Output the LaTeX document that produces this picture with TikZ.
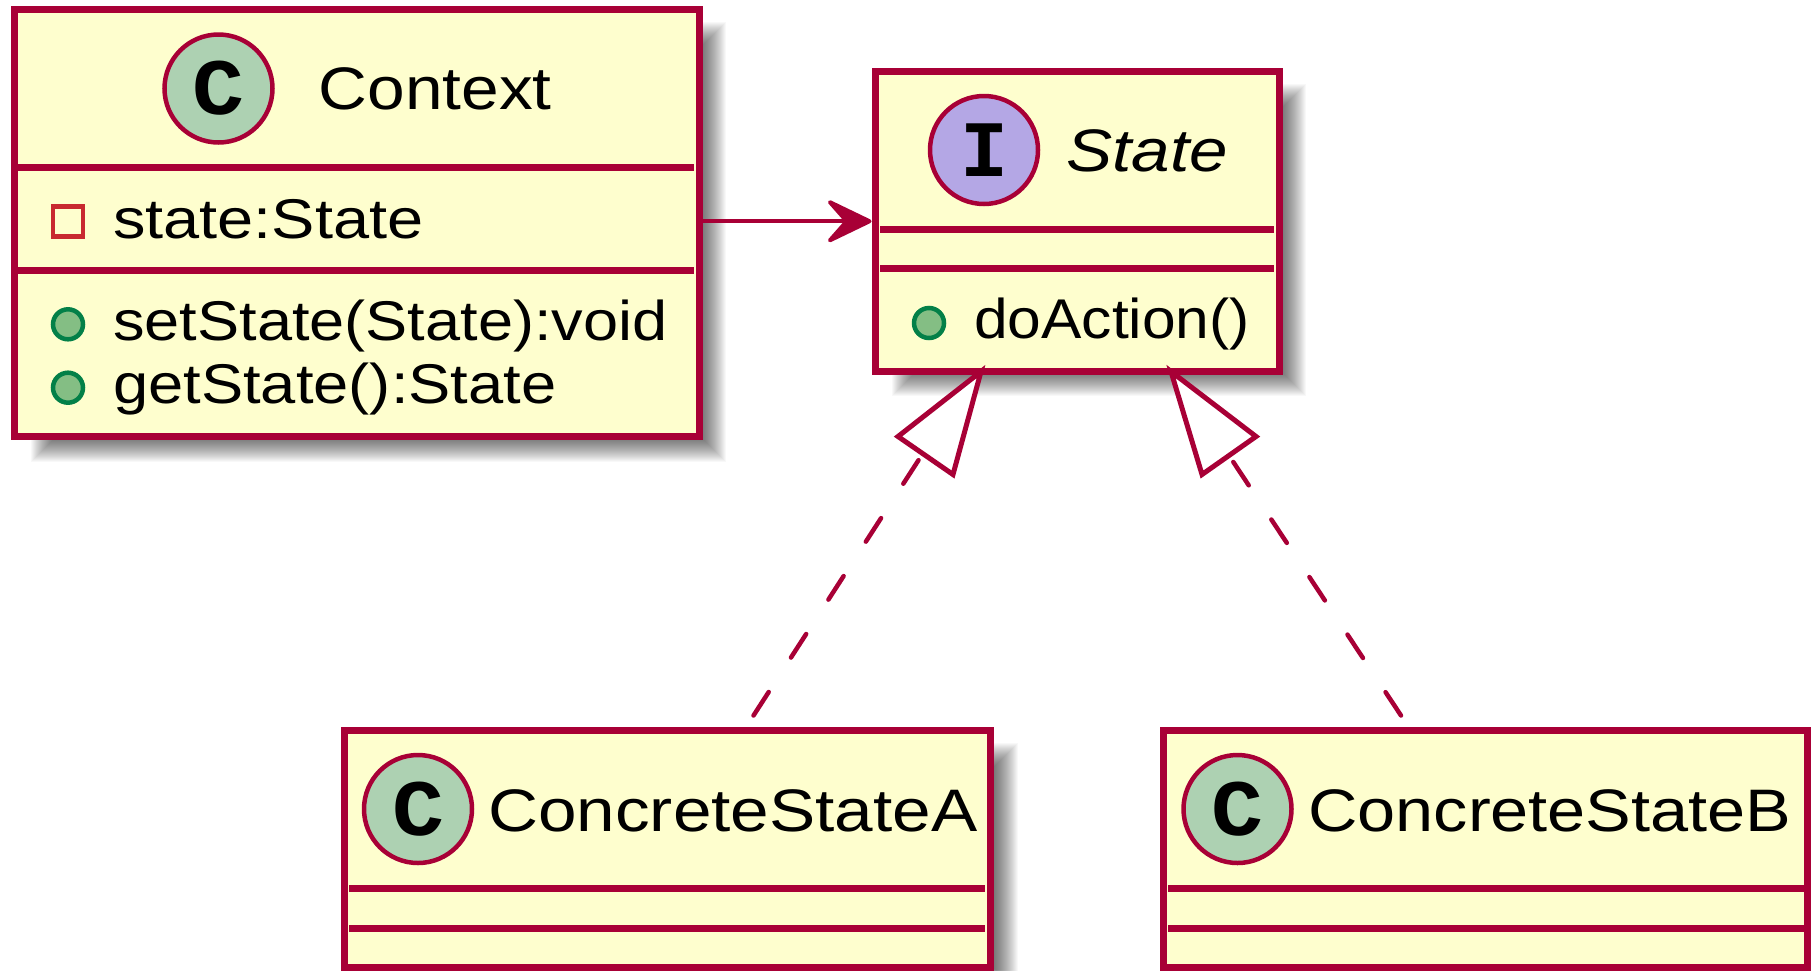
\documentclass[tikz,border=0pt]{standalone}
\usepackage{fontspec}
\setmainfont{Liberation Sans}
\newfontfamily\spot{Liberation Mono}
\usetikzlibrary{arrows.meta,calc}
\definecolor{bord}{HTML}{A80036}
\definecolor{boxfill}{HTML}{FEFECE}
\definecolor{spotc}{HTML}{ADD1B2}
\definecolor{spoti}{HTML}{B4A7E5}
\definecolor{pubfill}{HTML}{84BE84}
\definecolor{publine}{HTML}{038048}
\definecolor{privline}{HTML}{C82930}
\newcommand{\shadowbox}[4]{%
  \foreach \k in {0,...,23}{
    \fill[black,opacity=0.028] ({#1+17+\k},{#2+12+\k}) rectangle ({#3+27-\k},{#4+25-\k});
  }}
\newcommand{\wide}[2]{\scalebox{#1}[1]{#2}}
\tikzset{
  x=1pt,y=-1pt,
  classbox/.style={draw=bord,fill=boxfill,line width=7pt,rectangle,inner sep=0pt},
  sepline/.style={draw=bord,line width=7pt},
  spotnode/.style={circle,draw=bord,line width=4.5pt,minimum size=108pt,inner sep=0pt,text=black,font=\spot\bfseries\fontsize{80}{80}\selectfont},
  titletext/.style={anchor=base west,inner sep=0pt,text=black,font=\fontsize{60}{60}\selectfont},
  membertext/.style={anchor=base west,inner sep=0pt,text=black,font=\fontsize{56}{56}\selectfont},
  pubdot/.style={circle,draw=publine,fill=pubfill,line width=4.5pt,minimum size=30pt,inner sep=0pt},
  privbox/.style={rectangle,draw=privline,line width=4.5pt,minimum size=30pt,inner sep=0pt},
  assoc/.style={draw=bord,line width=4pt,-{Stealth[length=52pt,width=50pt,inset=22pt,round]}},
  realize/.style={draw=bord,line width=4.5pt,dash pattern=on 28pt off 41pt,line cap=round},
  hollow/.style={draw=bord,fill=white,line width=5pt,line join=miter},
}
\begin{document}
\begin{tikzpicture}
\useasboundingbox (0,0) rectangle (1811,970);
\fill[white] (0,0) rectangle (1811,970);
\shadowbox{14}{9.5}{699}{436.5}
\shadowbox{875}{71.5}{1279}{371}
\shadowbox{344.5}{730.5}{990.5}{967}
\shadowbox{1163.5}{730.5}{1807.5}{967}
% boxes
\node[classbox,minimum width=685pt,minimum height=427pt] (ctx) at (356.5,223) {};
\node[classbox,minimum width=404pt,minimum height=299.5pt] (state) at (1077,221.25) {};
\node[classbox,minimum width=646pt,minimum height=236.5pt] (cona) at (667.5,848.75) {};
\node[classbox,minimum width=644pt,minimum height=236.5pt] (conb) at (1485.5,848.75) {};
% separators
\draw[sepline] (18,167.5) -- (694,167.5);
\draw[sepline] (18,270.5) -- (694,270.5);
\draw[sepline] (880,229.3) -- (1274,229.3);
\draw[sepline] (880,268.7) -- (1274,268.7);
\draw[sepline] (349,888.3) -- (985,888.3);
\draw[sepline] (349,928) -- (985,928);
\draw[sepline] (1168,888.3) -- (1804,888.3);
\draw[sepline] (1168,928) -- (1804,928);
% spots
\node[spotnode,fill=spotc] (sctx) at (218.5,88.5) {\wide{1.08}{C}};
\node[spotnode,fill=spoti] (sst) at (984,150) {I};
\node[spotnode,fill=spotc] (sa) at (418,809) {\wide{1.08}{C}};
\node[spotnode,fill=spotc] (sb) at (1237.5,809) {\wide{1.08}{C}};
% titles
\node[titletext] (tctx) at (318.5,109) {\wide{1.127}{Context}};
\node[titletext] (tst) at (1066,171.5) {\wide{1.153}{\itshape State}};
\node[titletext] (ta) at (488,831) {\wide{1.155}{ConcreteStateA}};
\node[titletext] (tb) at (1308,831) {\wide{1.141}{ConcreteStateB}};
% members
\node[privbox] (p1) at (68,221.5) {};
\node[membertext] (m1) at (113,238) {\wide{1.159}{state:State}};
\node[pubdot] (d2) at (68,324.3) {};
\node[membertext] (m2) at (113,340) {\wide{1.127}{setState(State):void}};
\node[pubdot] (d3) at (68,387.7) {};
\node[membertext] (m3) at (113,403) {\wide{1.13}{getState():State}};
\node[pubdot] (d4) at (929,323) {};
\node[membertext] (m4) at (974,338.7) {\wide{1.08}{doAction()}};
% association
\draw[assoc] (ctx.east |- state.west) -- (state.west);
% realizations
\coordinate (t1) at ($(state.south)+(-96,-3)$);
\coordinate (t1a) at ($(state.south)+(-179,62)$);
\coordinate (t1b) at ($(state.south)+(-124,100)$);
\coordinate (b1) at ($(t1a)!0.45!(t1b)$);
\coordinate (e1) at ($(cona.north)+(86,-11.5)$);
\coordinate (t2) at ($(state.south)+(94,-3)$);
\coordinate (t2a) at ($(state.south)+(179,62)$);
\coordinate (t2b) at ($(state.south)+(125,100)$);
\coordinate (b2) at ($(t2a)!0.5!(t2b)$);
\coordinate (e2) at ($(conb.north)+(-84.5,-11.5)$);
\draw[realize] (e1) -- (b1);
\draw[realize] (e2) -- (b2);
\draw[hollow] (t1) -- (t1a) -- (t1b) -- cycle;
\draw[hollow] (t2) -- (t2a) -- (t2b) -- cycle;
\end{tikzpicture}
\end{document}
